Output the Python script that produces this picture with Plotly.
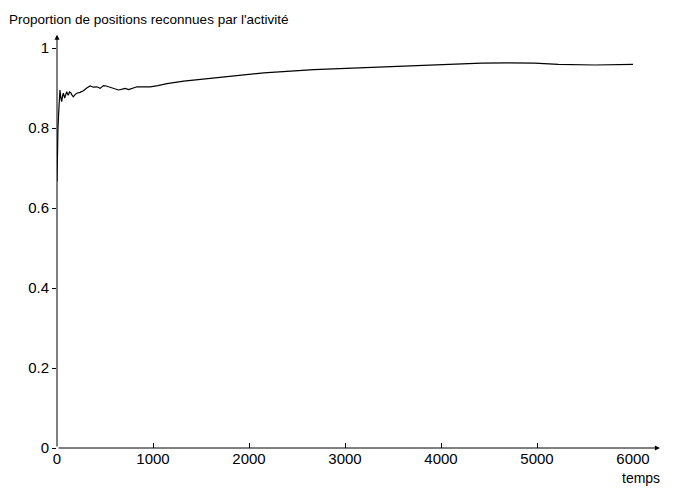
import plotly.graph_objects as go

# temps (x) et proportion reconnue (y)
temps = [0, 3, 10, 20, 31, 40, 49, 58, 66, 80, 101, 110, 118, 130, 143, 155, 170,
         190, 206, 240, 275, 310, 345, 380, 415, 450, 484, 512, 560, 600, 641, 680,
         711, 746, 790, 833, 900, 972, 1050, 1146, 1320, 1564, 1808, 2153, 2676,
         3198, 3721, 4107, 4421, 4700, 4975, 5222, 5602, 6000]
proportion = [0.667, 0.77, 0.80, 0.85, 0.895, 0.875, 0.866, 0.88, 0.887, 0.875,
              0.891, 0.885, 0.882, 0.89, 0.888, 0.883, 0.878, 0.884, 0.887, 0.889,
              0.893, 0.9, 0.905, 0.902, 0.903, 0.899, 0.906, 0.905, 0.901, 0.898,
              0.895, 0.897, 0.899, 0.896, 0.9, 0.903, 0.903, 0.903, 0.906, 0.911,
              0.917, 0.923, 0.929, 0.938, 0.946, 0.951, 0.955, 0.958, 0.962, 0.963,
              0.962, 0.959, 0.9575, 0.959]

x_ticks = [0, 1000, 2000, 3000, 4000, 5000, 6000]
y_ticks = [0, 0.2, 0.4, 0.6, 0.8, 1]
y_labels = ["0", "0.2", "0.4", "0.6", "0.8", "1"]

font = dict(family="Liberation Sans, Arial, sans-serif", size=15, color="black")

fig = go.Figure(go.Scatter(x=temps, y=proportion, mode="lines",
                           line=dict(color="black", width=1.2)))

# the page adds an 8px body margin, so the figure is a bit smaller than the window
fig.update_layout(
    width=665, height=481,
    margin=dict(l=49, r=40, t=40, b=41),
    plot_bgcolor="white", paper_bgcolor="white",
    showlegend=False, font=font,
    xaxis=dict(range=[0, 6000], tickvals=x_ticks, ticks="inside", ticklen=5,
               tickcolor="black", showgrid=False, zeroline=False, showline=False),
    yaxis=dict(range=[0, 1], tickvals=y_ticks, ticktext=y_labels, ticks="outside",
               ticklen=4, tickcolor="black", showgrid=False, zeroline=False,
               showline=False),
)

# axes fléchés
fig.add_annotation(x=6280, y=0, ax=0, ay=0, xref="x", yref="y", axref="x", ayref="y",
                   showarrow=True, arrowhead=2, arrowsize=1, arrowwidth=1,
                   arrowcolor="black", text="")
fig.add_annotation(x=0, y=1.033, ax=0, ay=0, xref="x", yref="y", axref="x", ayref="y",
                   showarrow=True, arrowhead=2, arrowsize=1, arrowwidth=1,
                   arrowcolor="black", text="")

fig.add_annotation(text="Proportion de positions reconnues par l'activité",
                   xref="paper", yref="paper", x=-0.087, y=1.095, xanchor="left",
                   yanchor="top", showarrow=False, font=dict(size=13.5))
fig.add_annotation(text="temps", xref="paper", yref="paper", x=1.05, y=-0.05,
                   xanchor="right", yanchor="top", showarrow=False, font=dict(size=14))

fig.write_html("out.html")
